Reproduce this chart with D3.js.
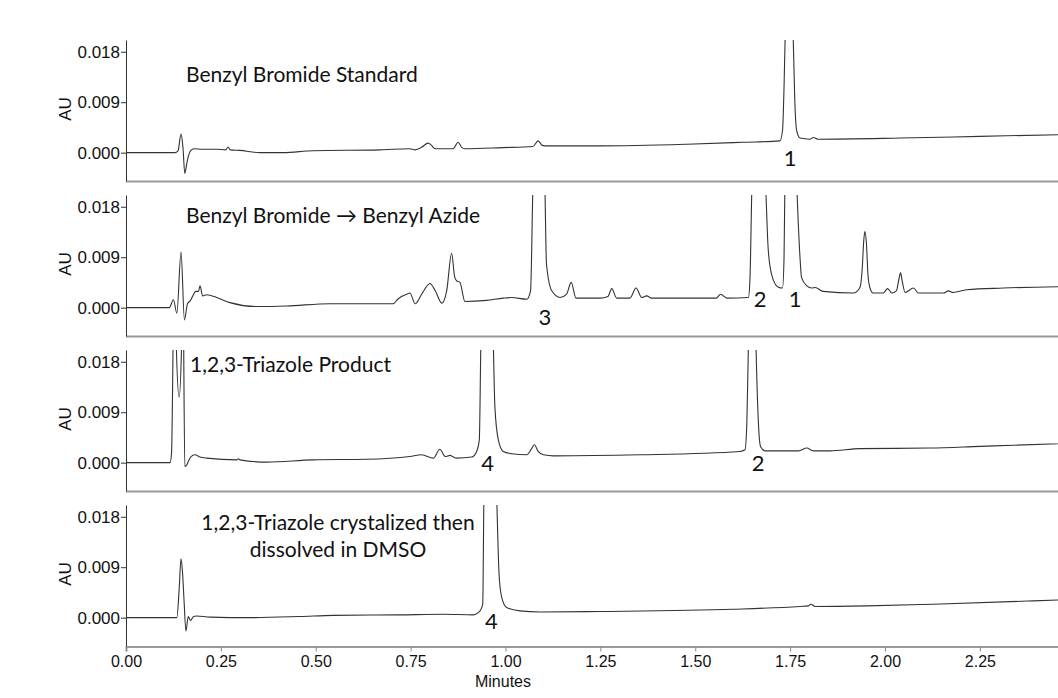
<!DOCTYPE html>
<html lang="en">
<head>
    <meta charset="UTF-8">
    <title>HPLC Chromatograms - Benzyl Azide / Triazole</title>
    <script src="https://d3js.org/d3.v7.min.js"></script>
    <style>
        body {
            margin: 0;
            background: #fff;
            overflow: hidden;
        }
        .trace {
            fill: none;
            stroke: #333;
            stroke-width: 1.1px;
        }
        .tick-label {
            font-family: "Liberation Sans", Arial, sans-serif;
            fill: #111;
        }
        .note {
            font-family: Lato, "Open Sans", sans-serif;
            fill: #111;
        }
    </style>
</head>
<body>
    <svg id="chart" width="1058" height="698"></svg>
    <script>
        // Chromatogram data: [minutes, AU]
        const stdTrace = [
            [0.00, 0.0000], [0.129, 0.0000], [0.137, 0.0003], [0.145, 0.0033], [0.150, 0.0010],
            [0.155, -0.0037], [0.160, -0.0020], [0.164, -0.0007], [0.171, 0.0004], [0.179, 0.0007],
            [0.20, 0.0006], [0.24, 0.0006], [0.263, 0.0005], [0.269, 0.0010], [0.275, 0.0005],
            [0.30, 0.0004], [0.353, 0.0000], [0.414, 0.0000], [0.493, 0.00035], [0.669, 0.0005],
            [0.748, 0.0007], [0.762, 0.0005], [0.780, 0.0010], [0.796, 0.0017], [0.805, 0.0013],
            [0.814, 0.0007], [0.862, 0.0007], [0.875, 0.00185], [0.884, 0.0010], [0.893, 0.0007],
            [0.993, 0.0009], [1.072, 0.0011], [1.086, 0.0021], [1.097, 0.0013], [1.109, 0.0012],
            [1.249, 0.0012], [1.478, 0.0015], [1.626, 0.00185], [1.723, 0.0021], [1.730, 0.0040],
            [1.734, 0.0118], [1.737, 0.0210], [1.747, 0.0600], [1.758, 0.0210], [1.762, 0.0100],
            [1.767, 0.0040], [1.776, 0.0026], [1.802, 0.0024], [1.811, 0.0027], [1.823, 0.0024],
            [2.04, 0.0026], [2.25, 0.0029], [2.46, 0.0032], [2.55, 0.0033]
        ];

        const rxnTrace = [
            [0.00, 0.0000], [0.114, 0.0000], [0.125, 0.0014], [0.134, -0.0010], [0.145, 0.0099],
            [0.154, -0.0022], [0.162, 0.0007], [0.169, 0.0012], [0.176, 0.0021], [0.184, 0.0029],
            [0.191, 0.0029], [0.195, 0.0039], [0.202, 0.0021], [0.213, 0.0023], [0.239, 0.0018],
            [0.274, 0.0009], [0.344, 0.0002], [0.423, 0.0003], [0.538, 0.0007], [0.704, 0.0007],
            [0.716, 0.0015], [0.726, 0.0020], [0.740, 0.0024], [0.748, 0.0026], [0.762, 0.0007],
            [0.780, 0.0025], [0.801, 0.0043], [0.815, 0.0030], [0.832, 0.0008], [0.845, 0.0030],
            [0.858, 0.0097], [0.866, 0.0055], [0.871, 0.0048], [0.880, 0.0045], [0.893, 0.0011],
            [0.95, 0.0013], [0.994, 0.0017], [1.016, 0.0018], [1.056, 0.0015], [1.066, 0.0030],
            [1.072, 0.0210], [1.090, 0.0600], [1.104, 0.0210], [1.108, 0.0078], [1.122, 0.0030],
            [1.144, 0.0018], [1.161, 0.0024], [1.173, 0.0045], [1.186, 0.0017], [1.249, 0.0017],
            [1.270, 0.0020], [1.280, 0.0034], [1.293, 0.0017], [1.328, 0.0017], [1.344, 0.0035],
            [1.359, 0.0018], [1.372, 0.0021], [1.385, 0.0017], [1.495, 0.0017], [1.555, 0.0017],
            [1.567, 0.0024], [1.583, 0.0017], [1.640, 0.0018], [1.644, 0.0048], [1.649, 0.0210],
            [1.667, 0.0600], [1.686, 0.0210], [1.692, 0.0107], [1.701, 0.0060], [1.718, 0.0037],
            [1.730, 0.0035], [1.734, 0.0090], [1.736, 0.0210], [1.752, 0.0600], [1.768, 0.0210],
            [1.776, 0.0090], [1.780, 0.0054], [1.794, 0.0039], [1.807, 0.0035], [1.816, 0.0036],
            [1.837, 0.0029], [1.917, 0.0026], [1.934, 0.0036], [1.940, 0.0070], [1.944, 0.0120],
            [1.947, 0.0136], [1.951, 0.0115], [1.955, 0.0060], [1.960, 0.0036], [1.969, 0.0026],
            [1.995, 0.0026], [2.007, 0.0034], [2.018, 0.0026], [2.030, 0.0030], [2.037, 0.0052],
            [2.041, 0.0062], [2.046, 0.0045], [2.053, 0.0027], [2.075, 0.0035], [2.088, 0.0026],
            [2.154, 0.0026], [2.167, 0.0030], [2.180, 0.0027], [2.215, 0.0032], [2.312, 0.0035],
            [2.55, 0.0038]
        ];

        const triazoleTrace = [
            [0.00, 0.0000], [0.116, 0.0000], [0.120, 0.0017], [0.124, 0.0210], [0.128, 0.0500],
            [0.1325, 0.0210], [0.140, 0.0117], [0.1465, 0.0210], [0.149, 0.0500], [0.152, 0.0210],
            [0.155, -0.0007], [0.160, -0.0004], [0.170, 0.0010], [0.182, 0.0014], [0.195, 0.0010],
            [0.213, 0.0008], [0.292, 0.0005], [0.296, 0.0007], [0.300, 0.0005], [0.371, 0.0001],
            [0.494, 0.0005], [0.634, 0.0006], [0.748, 0.0011], [0.779, 0.0014], [0.810, 0.0008],
            [0.827, 0.0024], [0.841, 0.0011], [0.854, 0.0013], [0.858, 0.0012], [0.871, 0.0008],
            [0.911, 0.0010], [0.924, 0.0020], [0.931, 0.0041], [0.935, 0.0210], [0.952, 0.0600],
            [0.968, 0.0210], [0.972, 0.0100], [0.981, 0.0041], [0.994, 0.0020], [1.016, 0.0016],
            [1.056, 0.0014], [1.068, 0.0024], [1.076, 0.0032], [1.086, 0.0020], [1.100, 0.0014],
            [1.126, 0.0012], [1.354, 0.0014], [1.618, 0.0020], [1.631, 0.0023], [1.636, 0.0071],
            [1.640, 0.0210], [1.650, 0.0600], [1.660, 0.0210], [1.666, 0.0077], [1.672, 0.0029],
            [1.684, 0.0021], [1.772, 0.0021], [1.794, 0.0026], [1.811, 0.0021], [1.855, 0.0021],
            [1.934, 0.0025], [2.119, 0.0026], [2.250, 0.0029], [2.338, 0.0031], [2.55, 0.0036]
        ];

        const crystalTrace = [
            [0.00, 0.0000], [0.134, 0.0000], [0.140, 0.0050], [0.145, 0.0105], [0.149, 0.0080],
            [0.153, 0.0030], [0.158, -0.0024], [0.164, 0.0002], [0.170, -0.0005], [0.178, 0.0002],
            [0.186, 0.0003], [0.221, 0.0001], [0.327, 0.0000], [0.458, 0.0002], [0.546, 0.0004],
            [0.722, 0.0005], [0.836, 0.0006], [0.915, 0.0005], [0.933, 0.0012], [0.940, 0.0024],
            [0.943, 0.0210], [0.960, 0.0600], [0.977, 0.0210], [0.983, 0.0078], [0.990, 0.0036],
            [1.003, 0.0018], [1.038, 0.0012], [1.091, 0.0010], [1.249, 0.0011], [1.600, 0.0015],
            [1.776, 0.0020], [1.798, 0.0021], [1.804, 0.0024], [1.816, 0.0020], [1.952, 0.0021],
            [2.127, 0.0024], [2.391, 0.0030], [2.55, 0.0034]
        ];

        // Panel titles (one line per entry)
        const titles = [
            ["Benzyl Bromide Standard"],
            ["Benzyl Bromide \u2192 Benzyl Azide"],
            ["1,2,3-Triazole Product"],
            ["1,2,3-Triazole crystalized then", "dissolved in DMSO"]
        ];

        // Peak numbers: [label, minutes, AU of baseline]
        const stdPeaks = [["1", 1.750, -0.0024]];
        const rxnPeaks = [["3", 1.104, -0.0031], ["2", 1.671, 0.0001], ["1", 1.763, 0.0001]];
        const triazolePeaks = [["4", 0.953, -0.0015], ["2", 1.666, -0.0015]];
        const crystalPeaks = [["4", 0.963, -0.0021]];

        const xTicks = [0, 0.25, 0.5, 0.75, 1.0, 1.25, 1.5, 1.75, 2.0, 2.25, 2.5];
        const yTicks = [0, 0.009, 0.018];
        const yDomain = [-0.00506, 0.0201];

        // Layout
        const width = 1058;
        const left = 126;
        const panelTop = 40, panelStep = 155, panelH = 141;
        const titleLayout = [
            { x: 186, y: 42, anchor: "start" },
            { x: 186, y: 28, anchor: "start" },
            { x: 190, y: 22, anchor: "start" },
            { x: 338, y: 25, anchor: "middle" }
        ];

        const panels = [
            { trace: stdTrace, peaks: stdPeaks },
            { trace: rxnTrace, peaks: rxnPeaks },
            { trace: triazoleTrace, peaks: triazolePeaks },
            { trace: crystalTrace, peaks: crystalPeaks }
        ];

        const svg = d3.select("#chart");

        const x = d3.scaleLinear().domain([0, 2.55]).range([left, left + 2.55 * 379.5]);

        panels.forEach((p, i) => {
            const top = panelTop + i * panelStep;
            const bottom = top + panelH;
            const y = d3.scaleLinear().domain(yDomain).range([bottom, top]);
            const g = svg.append("g");

            // clip so tall peaks are cut at the panel top
            svg.append("clipPath").attr("id", "clip" + i)
                .append("rect")
                .attr("x", left).attr("y", top)
                .attr("width", width - left).attr("height", panelH);

            // bottom axis line (panels 1-3 have no ticks)
            if (i < 3) {
                g.append("line")
                    .attr("x1", left).attr("x2", width)
                    .attr("y1", bottom + 0.5).attr("y2", bottom + 0.5)
                    .attr("stroke", "#999").attr("stroke-width", 2);
            } else {
                const xAxis = g.append("g")
                    .attr("transform", `translate(0,${bottom + 0.5})`)
                    .call(d3.axisBottom(x).tickValues(xTicks).tickFormat(d3.format(".2f")).tickSize(5).tickPadding(4));
                xAxis.select(".domain").attr("stroke", "#999").attr("stroke-width", 2);
                xAxis.selectAll(".tick line").attr("stroke", "#888");
                xAxis.selectAll("text").attr("class", "tick-label").style("font-size", "16px");

                g.append("text")
                    .attr("class", "tick-label")
                    .attr("x", 503).attr("y", 687)
                    .attr("text-anchor", "middle")
                    .style("font-size", "16px")
                    .text("Minutes");
            }

            // y axis
            const yAxis = g.append("g")
                .attr("transform", `translate(${left},0)`)
                .call(d3.axisLeft(y).tickValues(yTicks).tickFormat(d3.format(".3f")).tickSize(5).tickPadding(1).tickSizeOuter(0));
            yAxis.select(".domain").attr("stroke", "#333");
            yAxis.selectAll(".tick line").attr("stroke", "#333");
            yAxis.selectAll("text").attr("class", "tick-label").style("font-size", "17px");

            g.append("text")
                .attr("class", "tick-label")
                .attr("transform", `translate(71,${top + 69}) rotate(-90)`)
                .attr("text-anchor", "middle")
                .style("font-size", "17px")
                .text("AU");

            // trace
            const line = d3.line()
                .x(d => x(d[0]))
                .y(d => y(d[1]))
                .curve(d3.curveMonotoneX);

            g.append("path")
                .datum(p.trace)
                .attr("class", "trace")
                .attr("clip-path", `url(#clip${i})`)
                .attr("d", line);

            // title
            const tl = titleLayout[i];
            titles[i].forEach((t, k) => {
                g.append("text")
                    .attr("class", "note")
                    .attr("x", tl.x)
                    .attr("y", top + tl.y + k * 26.7)
                    .attr("text-anchor", tl.anchor)
                    .style("font-size", "21px")
                    .text(t);
            });

            // peak numbers
            g.selectAll(".peak")
                .data(p.peaks)
                .enter()
                .append("text")
                .attr("class", "note peak")
                .attr("x", d => x(d[1]))
                .attr("y", d => y(d[2]))
                .attr("text-anchor", "middle")
                .style("font-size", "22px")
                .text(d => d[0]);
        });
    </script>
</body>
</html>
